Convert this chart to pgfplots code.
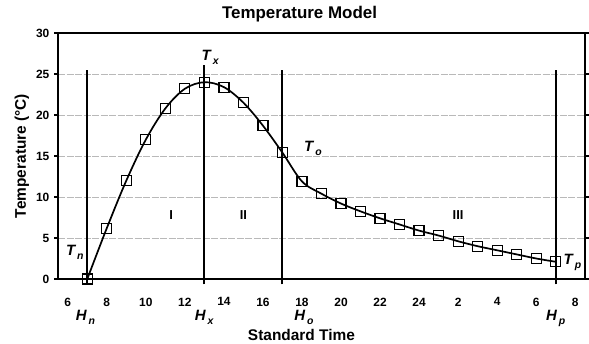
\documentclass[border=0pt]{standalone}
\usepackage{fontspec}
\setmainfont{Liberation Sans}
\usepackage{pgfplots}
\pgfplotsset{compat=1.18}
\newcommand{\sublab}[2]{{\fontsize{15}{17}\selectfont\bfseries\itshape #1\hspace{2bp}\raisebox{-0.5ex}{\fontsize{10.5}{11}\selectfont #2}}}
\begin{document}
\begin{tikzpicture}
\begin{axis}[
  scale only axis,
  width=527bp, height=246bp,
  xmin=5.5, xmax=32.5, ymin=0, ymax=30,
  clip=false,
  axis line style={black, line width=1.5bp},
  xtick={6,8,...,32},
  xticklabels={6,8,10,12,14,16,18,20,22,24,2,4,6,8},
  ytick={0,5,...,30},
  xtick style={draw=none},
  ytick style={black, line width=1.2bp},
  major tick length=3.5bp,
  tick align=outside,
  ymajorgrids,
  grid style={gray!55, line width=0.8bp, dash pattern=on 7bp off 1.5bp},
  /pgf/number format/assume math mode=true,
  ticklabel style={font=\fontsize{12}{14}\selectfont\bfseries},
  xticklabel style={anchor=north, inner sep=0pt, yshift=-15bp},
  yticklabel style={anchor=east, inner sep=0pt, xshift=-5bp},
  title={Temperature Model},
  title style={at={(axis description cs:0.4583,1.0366)}, anchor=base, font=\fontsize{17}{20}\selectfont\bfseries},
  xlabel={Standard Time},
  xlabel style={at={(axis description cs:0.462,-0.248)}, anchor=base, font=\fontsize{15.5}{18}\selectfont\bfseries},
  ylabel={Temperature (°C)},
  ylabel style={at={(axis description cs:-0.0683,0.5)}, anchor=center, font=\fontsize{15.5}{18}\selectfont\bfseries},
]
\coordinate (bl) at (rel axis cs:0,0);
\coordinate (tr) at (rel axis cs:1,1);
% vertical marker lines
\addplot[black, line width=2bp] coordinates {(7,-0.65) (7,25.5)};
\addplot[black, line width=2bp] coordinates {(13,-0.65) (13,26.1)};
\addplot[black, line width=2bp] coordinates {(17,-0.65) (17,25.5)};
\addplot[black, line width=2bp] coordinates {(31,-0.65) (31,25.5)};
% model curve
\addplot[black, line width=1.7bp, smooth, tension=0.55] coordinates {
(7,0.0) (8,6.2) (9,12.0) (10,17.0) (11,20.8) (12,23.2) (13,24.0) (14,23.4) (15,21.5) (16,18.7) (17,15.4)
(18,11.9) (19,10.4) (20,9.2) (21,8.25) (22,7.4) (23,6.65) (24,5.9) (25,5.3) (26,4.6) (27,4.0) (28,3.5) (29,3.0) (30,2.5) (31,2.1)};
% observed points
\addplot[only marks, mark=square, mark size=5bp, mark options={black, line width=1.2bp, fill=none}] coordinates {
(7,0.0) (8,6.2) (9,12.0) (10,17.0) (11,20.8) (12,23.2) (13,24.0) (14,23.4) (15,21.5) (16,18.7) (17,15.4)
(18,11.9) (19,10.4) (20,9.2) (21,8.25) (22,7.4) (23,6.65) (24,5.9) (25,5.3) (26,4.6) (27,4.0) (28,3.5) (29,3.0) (30,2.5) (31,2.1)};
% labels
\node[anchor=base west, inner sep=0pt] at (axis cs:12.85,26.6) {\sublab{T}{x}};
\node[anchor=base west, inner sep=0pt] at (axis cs:18.1,15.5) {\sublab{T}{o}};
\node[anchor=base west, inner sep=0pt] at (axis cs:5.9,2.9) {\sublab{T}{n}};
\node[anchor=base west, inner sep=0pt] at (axis cs:31.4,1.8) {\sublab{T}{p}};
\node[anchor=base west, inner sep=0pt] at (axis cs:6.4,-5.1) {\sublab{H}{n}};
\node[anchor=base west, inner sep=0pt] at (axis cs:12.5,-5.1) {\sublab{H}{x}};
\node[anchor=base west, inner sep=0pt] at (axis cs:17.6,-5.1) {\sublab{H}{o}};
\node[anchor=base west, inner sep=0pt] at (axis cs:30.5,-5.1) {\sublab{H}{p}};
\node[font=\fontsize{13}{15}\selectfont\bfseries] at (axis cs:11.3,7.8) {I};
\node[font=\fontsize{13}{15}\selectfont\bfseries] at (axis cs:15.0,7.8) {II};
\node[font=\fontsize{13}{15}\selectfont\bfseries] at (axis cs:26.0,7.8) {III};
\end{axis}
\pgfresetboundingbox
\path ([xshift=-58bp,yshift=-65bp]bl) rectangle ([xshift=4bp,yshift=33bp]tr);
\end{tikzpicture}
\end{document}
